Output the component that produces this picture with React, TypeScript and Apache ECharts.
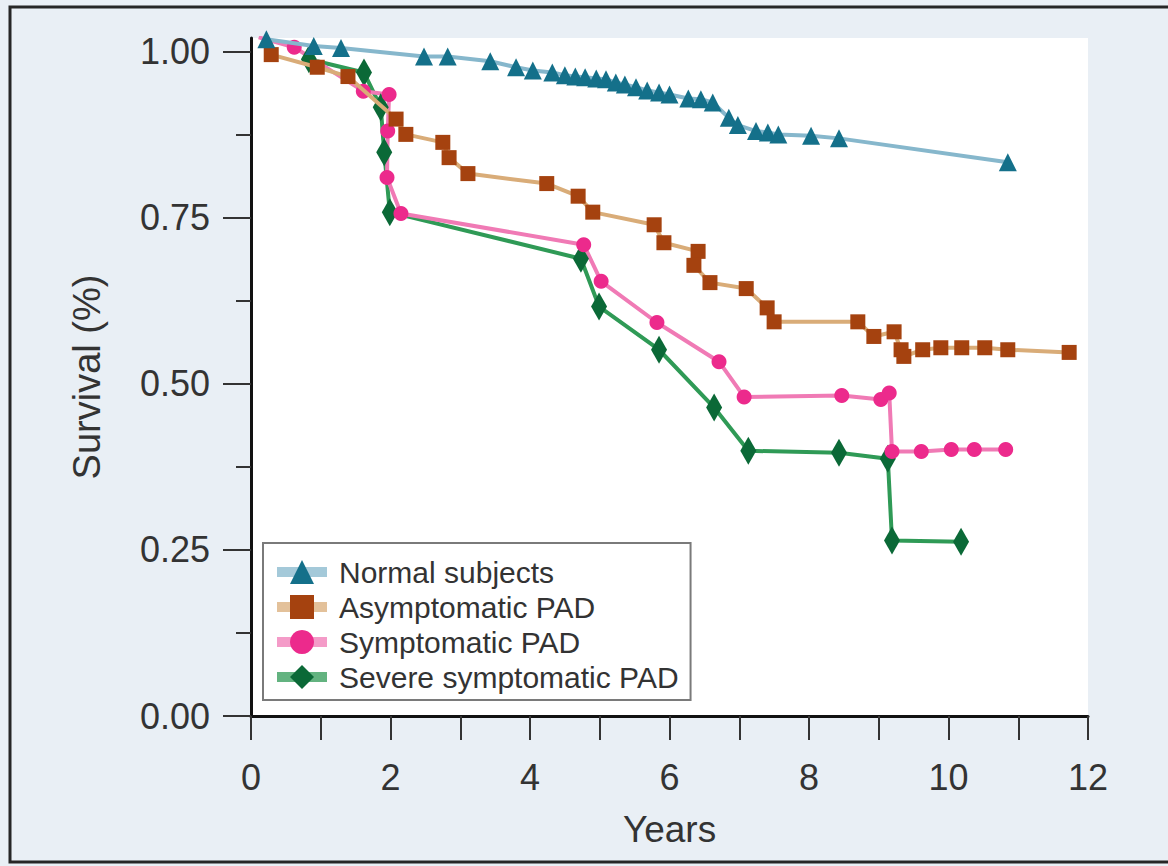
import React, { useEffect, useRef } from "react";
import * as echarts from "echarts";

// ---- data ----
const seriesNames = ["Normal subjects", "Asymptomatic PAD", "Symptomatic PAD", "Severe symptomatic PAD"];

const normalYears = [0.22, 0.9, 1.29, 2.48, 2.82, 3.43, 3.8, 4.04, 4.32, 4.5, 4.65, 4.79, 4.95, 5.09, 5.23, 5.36, 5.52, 5.68, 5.85, 6.0, 6.27, 6.45, 6.62, 6.85, 6.98, 7.24, 7.41, 7.56, 8.03, 8.43, 10.85];
const normalSurvival = [1.018, 1.008, 1.005, 0.992, 0.992, 0.985, 0.976, 0.971, 0.968, 0.964, 0.962, 0.961, 0.959, 0.958, 0.953, 0.95, 0.946, 0.941, 0.938, 0.935, 0.929, 0.928, 0.923, 0.9, 0.889, 0.88, 0.878, 0.875, 0.873, 0.869, 0.833];

const asymYears = [0.29, 0.95, 1.39, 2.08, 2.22, 2.75, 2.84, 3.11, 4.24, 4.69, 4.9, 5.78, 5.92, 6.41, 6.35, 6.58, 7.1, 7.4, 7.5, 8.7, 8.93, 9.22, 9.32, 9.36, 9.63, 9.89, 10.19, 10.52, 10.85, 11.73];
const asymSurvival = [0.995, 0.976, 0.962, 0.898, 0.875, 0.863, 0.84, 0.816, 0.801, 0.782, 0.758, 0.739, 0.712, 0.699, 0.678, 0.652, 0.643, 0.614, 0.593, 0.593, 0.571, 0.578, 0.551, 0.541, 0.551, 0.554, 0.554, 0.554, 0.551, 0.547];

const sympYears = [0.11, 0.62, 1.61, 1.98, 1.96, 1.95, 2.15, 4.77, 5.02, 5.82, 6.71, 7.07, 8.47, 9.03, 9.15, 9.19, 9.61, 10.04, 10.37, 10.82];
const sympSurvival = [1.021, 1.006, 0.94, 0.935, 0.88, 0.81, 0.756, 0.709, 0.654, 0.592, 0.533, 0.48, 0.482, 0.476, 0.486, 0.398, 0.398, 0.401, 0.401, 0.401];

const severeYears = [0.83, 1.62, 1.86, 1.91, 1.99, 4.73, 4.99, 5.85, 6.64, 7.13, 8.43, 9.13, 9.19, 10.18];
const severeSurvival = [0.988, 0.968, 0.916, 0.848, 0.758, 0.688, 0.616, 0.551, 0.464, 0.399, 0.396, 0.387, 0.264, 0.262];

const yLabelTicks = [0, 0.25, 0.5, 0.75, 1.0];
const yMinorTicks = [0.125, 0.375, 0.625, 0.875];
const xTicks = [0, 1, 2, 3, 4, 5, 6, 7, 8, 9, 10, 11, 12];
const xLabelTicks = [0, 2, 4, 6, 8, 10, 12];

const FONT = "'Liberation Sans', Arial, Helvetica, sans-serif";

const zip = (xs: number[], ys: number[]) => xs.map((x, i) => [x, ys[i]]);

export default function App() {
  const ref = useRef<HTMLDivElement>(null);

  useEffect(() => {
    if (!ref.current) return;
    const chart = echarts.init(ref.current, null, { renderer: "svg" });

    const mk = (
      name: string,
      xs: number[],
      ys: number[],
      symbol: string,
      symbolSize: any,
      lineColor: string,
      markerColor: string,
      z: number
    ) => ({
      name,
      type: "line",
      data: zip(xs, ys),
      symbol,
      symbolSize,
      showAllSymbol: true,
      z,
      lineStyle: { color: lineColor, width: 4 },
      itemStyle: { color: markerColor, borderWidth: 0 },
      emphasis: { disabled: true },
    });

    chart.setOption({
      animation: false,
      backgroundColor: "#e9eff5",
      textStyle: { fontFamily: FONT },
      grid: {
        left: 251,
        right: 80,
        top: 38,
        bottom: 150,
        show: true,
        backgroundColor: "#ffffff",
        borderWidth: 0,
        outerBoundsMode: "none",
        containLabel: false,
      },
      xAxis: {
        type: "value",
        min: 0,
        max: 12,
        interval: 1,
        name: "Years",
        nameLocation: "middle",
        nameGap: 95,
        nameTextStyle: { fontSize: 37, color: "#333", fontFamily: FONT },
        axisLine: { show: true, onZero: false, lineStyle: { color: "#111", width: 3 } },
        axisTick: { show: true, customValues: xTicks, length: 24, lineStyle: { color: "#333", width: 2 } },
        axisLabel: {
          customValues: xLabelTicks,
          margin: 43,
          fontSize: 36,
          color: "#333",
          fontFamily: FONT,
        },
        splitLine: { show: false },
      },
      yAxis: [
        {
          type: "value",
          min: 0,
          max: 1.02,
          interval: 0.25,
          name: "Survival (%)",
          nameLocation: "middle",
          nameGap: 145,
          nameTextStyle: { fontSize: 38, color: "#333", fontFamily: FONT },
          axisLine: { show: true, onZero: false, lineStyle: { color: "#111", width: 3 } },
          axisTick: { show: true, customValues: yLabelTicks, length: 28, lineStyle: { color: "#333", width: 2 } },
          axisLabel: {
            customValues: yLabelTicks,
            margin: 41,
            fontSize: 36,
            color: "#333",
            fontFamily: FONT,
            formatter: (v: number) => v.toFixed(2),
          },
          splitLine: { show: false },
        },
        {
          type: "value",
          min: 0,
          max: 1.02,
          position: "left",
          axisLine: { show: false },
          axisTick: { show: true, customValues: yMinorTicks, length: 15, lineStyle: { color: "#333", width: 2 } },
          axisLabel: { show: false },
          splitLine: { show: false },
        },
      ],
      legend: {
        data: seriesNames,
        orient: "vertical",
        left: 263,
        top: 543,
        backgroundColor: "#ffffff",
        borderColor: "#7a7a7a",
        borderWidth: 2,
        borderRadius: 0,
        padding: [14, 12, 8, 9],
        itemGap: 5,
        itemWidth: 50,
        itemHeight: 30,
        lineStyle: { width: 10, opacity: 0.75 },
        textStyle: { fontSize: 30, color: "#333", fontFamily: FONT, padding: [0, 0, 0, 7] },
        selectedMode: false,
      },
      series: [
        mk(seriesNames[0], normalYears, normalSurvival, "triangle", 18, "#86b7cc", "#14708a", 4),
        mk(seriesNames[1], asymYears, asymSurvival, "rect", 15, "#d9ac78", "#a5420f", 3),
        mk(seriesNames[3], severeYears, severeSurvival, "diamond", [16, 28], "#2f9a56", "#0b6937", 2),
        mk(seriesNames[2], sympYears, sympSurvival, "circle", 15, "#f07ab5", "#ec2a8c", 2),
      ],
      graphic: [
        {
          type: "rect",
          silent: true,
          z: 100,
          shape: { x: 10, y: 7, width: 1175, height: 855 },
          style: { fill: "none", stroke: "#262626", lineWidth: 3 },
        },
      ],
    });

    return () => chart.dispose();
  }, []);

  return (
    <div
      ref={ref}
      style={{ position: "absolute", left: 0, top: 0, width: 1168, height: 866 }}
    />
  );
}
